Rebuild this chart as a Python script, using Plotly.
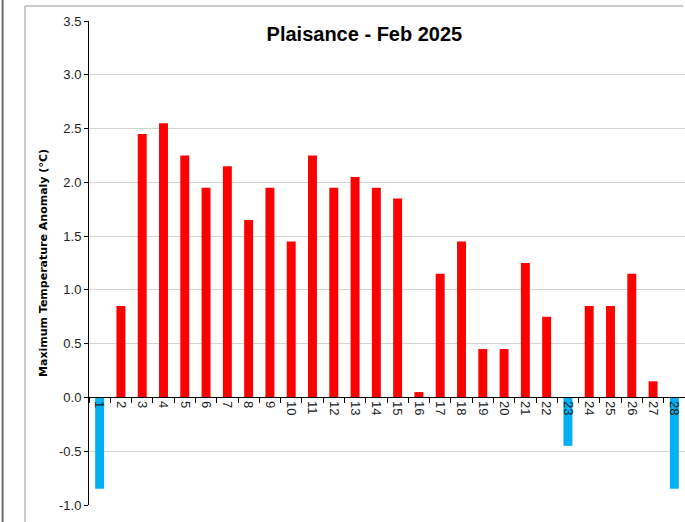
import plotly.graph_objects as go

days = [str(d) for d in range(1, 29)]
anomaly = [-0.85, 0.85, 2.45, 2.55, 2.25, 1.95, 2.15, 1.65, 1.95, 1.45,
           2.25, 1.95, 2.05, 1.95, 1.85, 0.05, 1.15, 1.45, 0.45, 0.45,
           1.25, 0.75, -0.45, 0.85, 0.85, 1.15, 0.15, -0.85]
y_ticks = [-1.0, -0.5, 0.0, 0.5, 1.0, 1.5, 2.0, 2.5, 3.0, 3.5]
y_tick_labels = ['-1.0', '-0.5', '0.0', '0.5', '1.0', '1.5', '2.0', '2.5', '3.0', '3.5']

bar_colors = ['#FF0000' if v >= 0 else '#00B0F0' for v in anomaly]

fig = go.Figure(go.Bar(x=days, y=anomaly, marker_color=bar_colors,
                       marker_line_width=0, width=0.42))

ymin, ymax = -1.0, 3.5
tick_font = dict(family='Liberation Sans Narrow, Liberation Sans, Arial', size=13, color='#222')

fig.update_layout(
    width=685, height=522,
    margin=dict(l=89, r=0, t=21, b=17, autoexpand=False),
    plot_bgcolor='white', paper_bgcolor='white',
    showlegend=False,
    title=dict(text='<b>Plaisance - Feb 2025</b>', x=0.532, xanchor='center',
               y=0.935, yanchor='middle',
               font=dict(family='Liberation Sans, Arial', size=20, color='black')),
    xaxis=dict(type='category', anchor='free', position=(0 - ymin) / (ymax - ymin),
               automargin=False,
               showline=True, linecolor='black', linewidth=1,
               ticks='outside', ticklen=5, tickcolor='black', tickson='boundaries',
               tickangle=90, showgrid=False, tickfont=tick_font),
    yaxis=dict(range=[ymin, ymax], tickvals=y_ticks, ticktext=y_tick_labels,
               automargin=False,
               showline=True, linecolor='black', linewidth=1,
               ticks='outside', ticklen=4, tickcolor='black',
               showgrid=True, gridcolor='#d4d4d4', gridwidth=1, zeroline=False,
               tickfont=tick_font,
               title=dict(text='<b>Maximum Temperature Anomaly (°C)</b>', standoff=9,
                          font=dict(family='DejaVu Sans', size=11, color='black'))),
)

# chart frame lines
fig.add_shape(type='line', xref='paper', yref='paper', x0=-0.1074, x1=-0.1074, y0=-0.05, y1=1.031,
              line=dict(color='#9a9a9a', width=1))
fig.add_shape(type='line', xref='paper', yref='paper', x0=-0.1074, x1=0.997, y0=1.031, y1=1.031,
              line=dict(color='#9a9a9a', width=1))
fig.add_shape(type='line', xref='paper', yref='paper', x0=-0.145, x1=-0.145, y0=-0.05, y1=1.05,
              line=dict(color='#6e6e6e', width=2))

fig.write_html("out.html", config={'displayModeBar': False},
               post_script="document.body.style.margin='0';")
